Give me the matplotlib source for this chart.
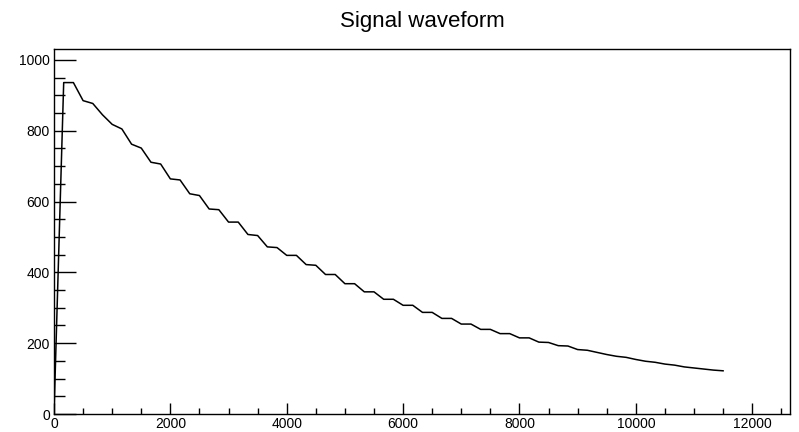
import numpy as np
import matplotlib
matplotlib.use('Agg')
import matplotlib.pyplot as plt
from matplotlib.ticker import MultipleLocator

plt.rcParams['font.family'] = ['Liberation Sans', 'DejaVu Sans']

# sample spacing (ns) and sample amplitudes
dt = 10000 / 60
amp = [0,
       936, 936, 885, 877, 845, 818, 805, 762, 751, 711,
       706, 664, 661, 622, 617, 579, 577, 542, 542, 507,
       504, 472, 470, 448, 448, 422, 420, 394, 394, 368,
       368, 345, 345, 324, 324, 307, 307, 287, 287, 270,
       270, 254, 254, 239, 239, 227, 227, 215, 215, 203,
       202, 193, 192, 182, 180, 174, 168, 163, 160, 154,
       149, 146, 141, 138, 133, 130, 127, 124, 122]
t = np.arange(len(amp)) * dt

fig = plt.figure(figsize=(7.99, 4.32), dpi=100)
ax = fig.add_axes([54/799, 18/432, 736/799, 364.7/432])

ax.plot(t, amp, color='black', lw=1.1)

ax.set_xlim(0, 12650)
ax.set_ylim(0, 1030)

ax.xaxis.set_major_locator(MultipleLocator(2000))
ax.xaxis.set_minor_locator(MultipleLocator(500))
ax.yaxis.set_major_locator(MultipleLocator(200))
ax.yaxis.set_minor_locator(MultipleLocator(50))

# lengths in pt (1 px = 0.72 pt at 100 dpi)
ax.tick_params(axis='x', which='major', direction='in', length=7.9, width=1,
               labelsize=10, pad=2)
ax.tick_params(axis='x', which='minor', direction='in', length=4, width=1)
ax.tick_params(axis='y', which='major', direction='in', length=15.8, width=1,
               labelsize=10, pad=3)
ax.tick_params(axis='y', which='minor', direction='in', length=7.9, width=1)

for s in ax.spines.values():
    s.set_linewidth(1)

fig.text((54 + 790) / 2 / 799, 1 - 21/432, 'Signal waveform',
         ha='center', va='center', fontsize=16)

fig.savefig('out.png', dpi=100)
